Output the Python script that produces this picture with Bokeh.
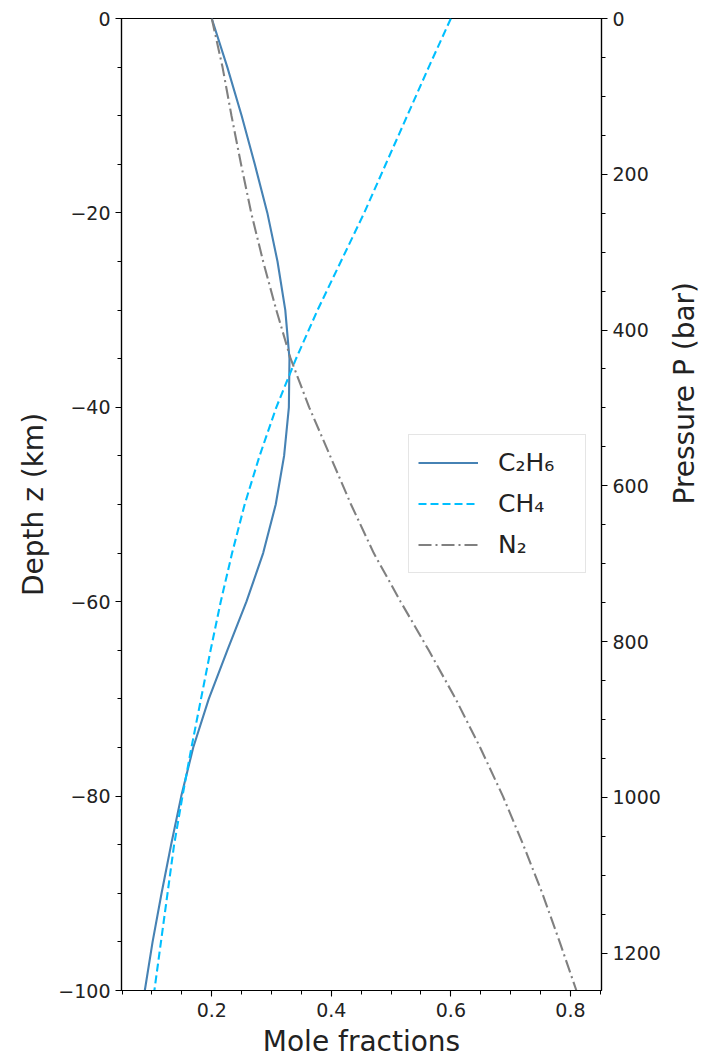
import math
from bokeh.plotting import figure
from bokeh.models import (Range1d, LinearAxis, SingleIntervalTicker,
                          CustomJSTickFormatter, Legend, LegendItem)
from bokeh.embed import file_html
from bokeh.resources import INLINE

# ---- data ----
depth_km = [0, -5, -10, -15, -20, -25, -30, -35, -40, -45, -50,
            -55, -60, -65, -70, -75, -80, -85, -90, -95, -100]
x_c2h6 = [0.200, 0.226, 0.250, 0.272, 0.293, 0.310, 0.323, 0.330, 0.329, 0.321, 0.307,
          0.286, 0.258, 0.226, 0.195, 0.169, 0.149, 0.132, 0.116, 0.101, 0.088]
x_ch4 = [0.600, 0.563, 0.527, 0.491, 0.455, 0.416, 0.377, 0.341, 0.308, 0.280, 0.255,
         0.234, 0.215, 0.198, 0.182, 0.166, 0.151, 0.137, 0.126, 0.115, 0.104]
x_n2 = [0.200, 0.218, 0.233, 0.249, 0.266, 0.286, 0.308, 0.332, 0.363, 0.398, 0.433,
        0.471, 0.516, 0.563, 0.608, 0.649, 0.687, 0.721, 0.753, 0.782, 0.810]
series_labels = ["C\u2082H\u2086", "CH\u2084", "N\u2082"]
pressure_axis_max_bar = 1248
x_axis_limits = (0.049, 0.852)
depth_axis_limits = (-100, 0)

FONT = "DejaVu Sans"

p = figure(frame_width=480, frame_height=972, output_backend="svg", toolbar_location=None,
           x_range=Range1d(*x_axis_limits), y_range=Range1d(*depth_axis_limits),
           min_border_left=121, min_border_top=18, min_border_right=10,
           min_border_bottom=10, background_fill_color="white",
           border_fill_color="white")
p.xgrid.visible = False
p.ygrid.visible = False
p.outline_line_color = "black"
p.outline_line_width = 1.2
p.outline_line_alpha = 1.0

r1 = p.line(x_c2h6, depth_km, line_color="#4682b4", line_width=2.1)
r2 = p.line(x_ch4, depth_km, line_color="#00bfff", line_width=2.1, line_dash="8 4")
r3 = p.line(x_n2, depth_km, line_color="#808080", line_width=2.1, line_dash="13 4 2 4")

def style_axis(ax):
    ax.axis_line_color = "black"
    ax.axis_line_width = 1.2
    ax.major_tick_line_color = "black"
    ax.minor_tick_line_color = "black"
    ax.major_tick_line_width = 1.1
    ax.minor_tick_line_width = 1.0
    ax.major_tick_in = 0
    ax.major_tick_out = 6
    ax.minor_tick_in = 0
    ax.minor_tick_out = 4
    ax.major_label_text_font = FONT
    ax.major_label_text_font_size = "19px"
    ax.major_label_text_color = "#222222"
    ax.axis_label_text_font = FONT
    ax.axis_label_text_font_size = "28px"
    ax.axis_label_text_font_style = "normal"
    ax.axis_label_text_color = "#222222"

xa = p.xaxis[0]
xa.ticker = SingleIntervalTicker(interval=0.2, num_minor_ticks=4)
xa.formatter = CustomJSTickFormatter(code="return tick.toFixed(1);")
xa.axis_label = "Mole fractions"
style_axis(xa)
xa.major_label_standoff = 6
xa.axis_label_standoff = 5

ya = p.yaxis[0]
ya.ticker = SingleIntervalTicker(interval=20, num_minor_ticks=4)
ya.formatter = CustomJSTickFormatter(
    code="return (tick < 0 ? '\\u2212' : '') + Math.abs(tick).toFixed(0);")
ya.axis_label = "Depth z (km)"
style_axis(ya)
ya.major_label_standoff = 5
ya.axis_label_standoff = 5

p.extra_y_ranges = {"pressure": Range1d(start=pressure_axis_max_bar, end=0)}
ra = LinearAxis(y_range_name="pressure",
                ticker=SingleIntervalTicker(interval=200, num_minor_ticks=4),
                axis_label="Pressure P (bar)")
style_axis(ra)
ra.major_label_standoff = 5
ra.axis_label_standoff = 21
try:
    ra.axis_label_orientation = math.pi / 2
except Exception:
    pass
p.add_layout(ra, "right")

legend = Legend(items=[LegendItem(label=series_labels[0], renderers=[r1]),
                       LegendItem(label=series_labels[1], renderers=[r2]),
                       LegendItem(label=series_labels[2], renderers=[r3])],
                location=(287, 417))
legend.label_text_font = FONT
legend.label_text_font_size = "25px"
legend.label_text_color = "#222222"
legend.glyph_width = 60
legend.glyph_height = 37
legend.label_height = 37
legend.label_width = 78
legend.label_standoff = 20
legend.spacing = 4
legend.padding = 9
legend.margin = 0
legend.border_line_color = "#cccccc"
legend.border_line_width = 1
legend.background_fill_color = "white"
legend.background_fill_alpha = 0.8
p.add_layout(legend, "center")

open("out.html", "w").write(file_html(p, INLINE))
